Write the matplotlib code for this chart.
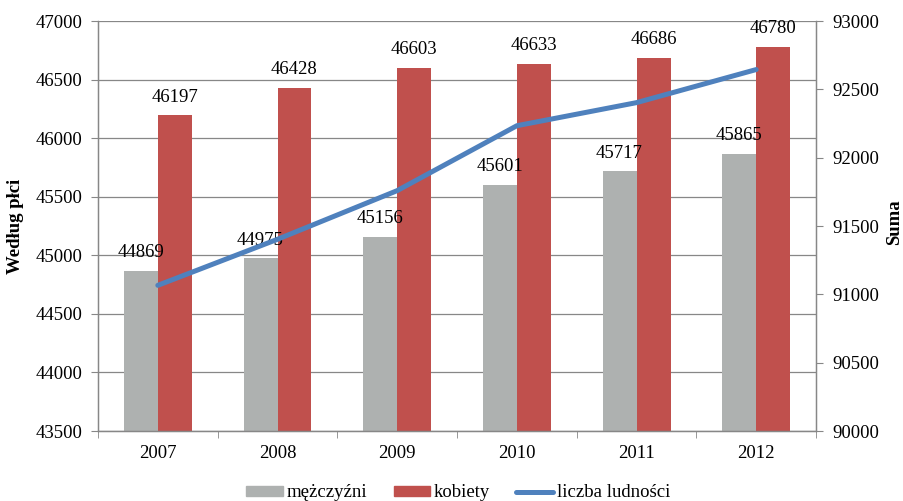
import matplotlib
matplotlib.use("Agg")
import matplotlib.pyplot as plt
import numpy as np
from matplotlib.lines import Line2D
from matplotlib.patches import Patch

years = ["2007", "2008", "2009", "2010", "2011", "2012"]
men = [44869, 44975, 45156, 45601, 45717, 45865]
women = [46197, 46428, 46603, 46633, 46686, 46780]
total = [91066, 91403, 91759, 92234, 92403, 92645]

plt.rcParams['font.family'] = ['Liberation Serif', 'DejaVu Serif']
FS = 13.5

fig = plt.figure(figsize=(9.04, 5.01), dpi=100)
ax = fig.add_axes([0.1084, 0.1397, 0.9027 - 0.1084, 0.958 - 0.1397])
ax2 = ax.twinx()

x = np.arange(1, len(years) + 1)
w = 0.284
grey = '#AEB1B0'
red = '#C0504D'
blue = '#4F81BD'
gridc = '#878787'

ax.bar(x - w / 2, men, width=w, color=grey, zorder=2)
ax.bar(x + w / 2, women, width=w, color=red, zorder=2)
for xi, v in zip(x - w / 2, men):
    ax.annotate(str(v), (xi, v), xytext=(0, 13), textcoords='offset points',
                ha='center', va='center', fontsize=FS, zorder=5)
for xi, v in zip(x + w / 2, women):
    ax.annotate(str(v), (xi, v), xytext=(0, 13), textcoords='offset points',
                ha='center', va='center', fontsize=FS, zorder=5)

ax2.plot(x, total, color=blue, lw=3.6, solid_capstyle='round', zorder=3)

ax.set_xlim(0.5, 6.5)
ax.set_ylim(43500, 47000)
ax.set_yticks(np.arange(43500, 47001, 500))
ax2.set_ylim(90000, 93000)
ax2.set_yticks(np.arange(90000, 93001, 500))

ax.yaxis.grid(True, color=gridc, lw=0.9)
ax.set_axisbelow(True)

ax.set_xticks(x)
ax.set_xticklabels(years)
ax.set_xticks(np.arange(0.5, 6.6, 1), minor=True)
ax.tick_params(axis='x', which='major', length=0, pad=10, labelsize=FS)
ax.tick_params(axis='x', which='minor', length=5, color=gridc)
ax.tick_params(axis='y', length=5, color=gridc, labelsize=FS, pad=6)
ax2.tick_params(axis='y', length=5, color=gridc, labelsize=FS, pad=7)

for a in (ax, ax2):
    a.spines['top'].set_visible(False)
    for s in ('left', 'right', 'bottom'):
        a.spines[s].set_color(gridc)
        a.spines[s].set_linewidth(0.9)

ax.set_ylabel('Według płci', fontsize=FS, fontweight='bold')
ax.yaxis.set_label_coords(-0.103, 0.5)
ax2.set_ylabel('Suma', fontsize=FS, fontweight='bold')
ax2.yaxis.set_label_coords(1.098, 0.51)

handles = [Patch(color=grey, label='mężczyźni'),
           Patch(color=red, label='kobiety'),
           Line2D([0], [0], color=blue, lw=3.6, solid_capstyle='round', label='liczba ludności')]
fig.legend(handles=handles, loc='center', bbox_to_anchor=(0.507, 0.016), ncol=3,
           frameon=False, fontsize=FS, handlelength=1.95, handleheight=0.4,
           handletextpad=0.2, columnspacing=1.4)

fig.savefig('out.png', dpi=100)
